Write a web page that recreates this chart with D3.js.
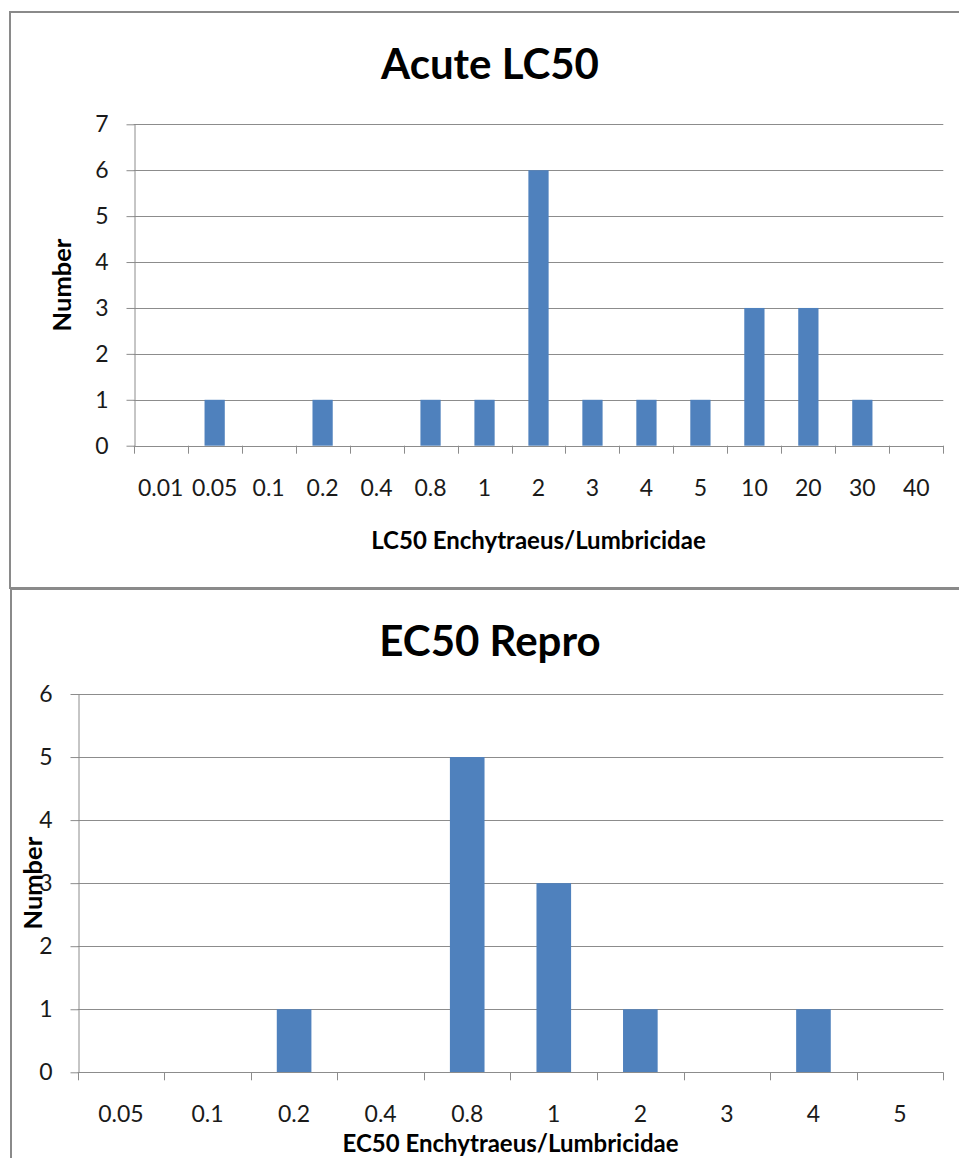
<!DOCTYPE html>
<html>
<head>
<meta charset="utf-8">
<script src="https://cdn.jsdelivr.net/npm/d3@7"></script>
<style>
  html, body { margin: 0; padding: 0; background: #fff; }
  svg { display: block; }
  text { font-family: Lato, "Open Sans", sans-serif; }
</style>
</head>
<body>
<svg id="chart" width="959" height="1158"></svg>
<script>
// Acute LC50 ratio classes and counts
const lcCategories = ["0.01", "0.05", "0.1", "0.2", "0.4", "0.8", "1", "2", "3", "4", "5", "10", "20", "30", "40"];
const lcCounts = [0, 1, 0, 1, 0, 1, 1, 6, 1, 1, 1, 3, 3, 1, 0];
const lcTicks = [0, 1, 2, 3, 4, 5, 6, 7];

// Reproduction EC50 ratio classes and counts
const ecCategories = ["0.05", "0.1", "0.2", "0.4", "0.8", "1", "2", "3", "4", "5"];
const ecCounts = [0, 0, 1, 0, 5, 3, 1, 0, 1, 0];
const ecTicks = [0, 1, 2, 3, 4, 5, 6];

const svg = d3.select("#chart");
const BAR = "#4F81BD";
const GRID = "#8c8c8c";
const BORDER = "#8a8a8a";
const LABEL = "#1a1a1a";

function drawPanel(opt) {
  const g = svg.append("g");

  // panel frame
  g.append("rect")
    .attr("x", opt.frame[0]).attr("y", opt.frame[1])
    .attr("width", opt.frame[2]).attr("height", opt.frame[3])
    .attr("fill", "none").attr("stroke", BORDER).attr("stroke-width", 2);

  const x = d3.scaleBand()
    .domain(opt.categories)
    .range([opt.left, opt.right])
    .paddingInner(opt.gap)
    .paddingOuter(opt.gap / 2);

  const y = d3.scaleLinear()
    .domain([0, d3.max(opt.ticks)])
    .range([opt.bottom, opt.top]);

  // horizontal gridlines
  g.append("g").selectAll("line")
    .data(opt.ticks.filter(t => t > 0))
    .join("line")
    .attr("x1", opt.left).attr("x2", opt.right)
    .attr("y1", d => Math.round(y(d)) + 0.5).attr("y2", d => Math.round(y(d)) + 0.5)
    .attr("stroke", GRID).attr("stroke-width", 1);

  // bars
  g.append("g").selectAll("rect")
    .data(opt.categories.map((c, i) => ({ c, v: opt.values[i] })))
    .join("rect")
    .attr("x", d => x(d.c))
    .attr("width", x.bandwidth())
    .attr("y", d => y(d.v))
    .attr("height", d => y(0) - y(d.v))
    .attr("fill", BAR);

  // y axis
  const yAxis = d3.axisLeft(y)
    .tickValues(opt.ticks)
    .tickFormat(d3.format("d"))
    .tickSizeInner(8).tickSizeOuter(0).tickPadding(18);
  const ya = g.append("g")
    .attr("transform", `translate(${Math.round(opt.left) + 0.5},0)`)
    .call(yAxis);
  ya.select(".domain").attr("stroke", GRID);
  ya.selectAll(".tick line").attr("stroke", GRID);
  ya.selectAll(".tick text")
    .attr("fill", LABEL)
    .style("font-size", "23px")
    .style("font-family", "Lato, sans-serif");

  // x axis: baseline with tick marks on category boundaries
  const step = x.step();
  const boundaries = d3.range(opt.categories.length + 1).map(i => opt.left + i * step);
  const xa = g.append("g");
  xa.append("line")
    .attr("x1", opt.left).attr("x2", opt.right)
    .attr("y1", Math.round(opt.bottom) + 0.5).attr("y2", Math.round(opt.bottom) + 0.5)
    .attr("stroke", GRID);
  xa.selectAll("line.tk")
    .data(boundaries)
    .join("line").attr("class", "tk")
    .attr("x1", d => Math.round(d) + 0.5).attr("x2", d => Math.round(d) + 0.5)
    .attr("y1", opt.bottom).attr("y2", opt.bottom + 8)
    .attr("stroke", GRID);
  xa.selectAll("text")
    .data(opt.categories)
    .join("text")
    .attr("x", d => x(d) + x.bandwidth() / 2)
    .attr("y", opt.bottom + 50)
    .attr("text-anchor", "middle")
    .attr("fill", LABEL)
    .style("font-size", "23px")
    .text(d => d);

  // chart title
  g.append("text")
    .attr("x", opt.titleX).attr("y", opt.titleY)
    .attr("text-anchor", "middle")
    .style("font-size", "42px").style("font-weight", "bold")
    .attr("fill", "#000")
    .text(opt.title);

  // axis titles
  g.append("text")
    .attr("x", (opt.left + opt.right) / 2).attr("y", opt.xTitleY)
    .attr("text-anchor", "middle")
    .style("font-size", "24px").style("font-weight", "bold")
    .attr("fill", "#000")
    .text(opt.xTitle);

  g.append("text")
    .attr("transform", `translate(${opt.yTitleX},${(opt.top + opt.bottom) / 2}) rotate(-90)`)
    .attr("text-anchor", "middle")
    .style("font-size", "25.5px").style("font-weight", "bold")
    .attr("fill", "#000")
    .text("Number");
}

drawPanel({
  frame: [10, 12, 960, 576],
  categories: lcCategories, values: lcCounts, ticks: lcTicks,
  left: 133.7, right: 943.3, top: 124.3, bottom: 445.7, gap: 0.625,
  title: "Acute LC50", titleX: 490, titleY: 79,
  xTitle: "LC50 Enchytraeus/Lumbricidae", xTitleY: 549,
  yTitleX: 71
});

drawPanel({
  frame: [11, 589, 960, 580],
  categories: ecCategories, values: ecCounts, ticks: ecTicks,
  left: 77.7, right: 943.3, top: 694, bottom: 1072.3, gap: 0.6,
  title: "EC50 Repro", titleX: 490, titleY: 656,
  xTitle: "EC50 Enchytraeus/Lumbricidae", xTitleY: 1152,
  yTitleX: 42
});
</script>
</body>
</html>
